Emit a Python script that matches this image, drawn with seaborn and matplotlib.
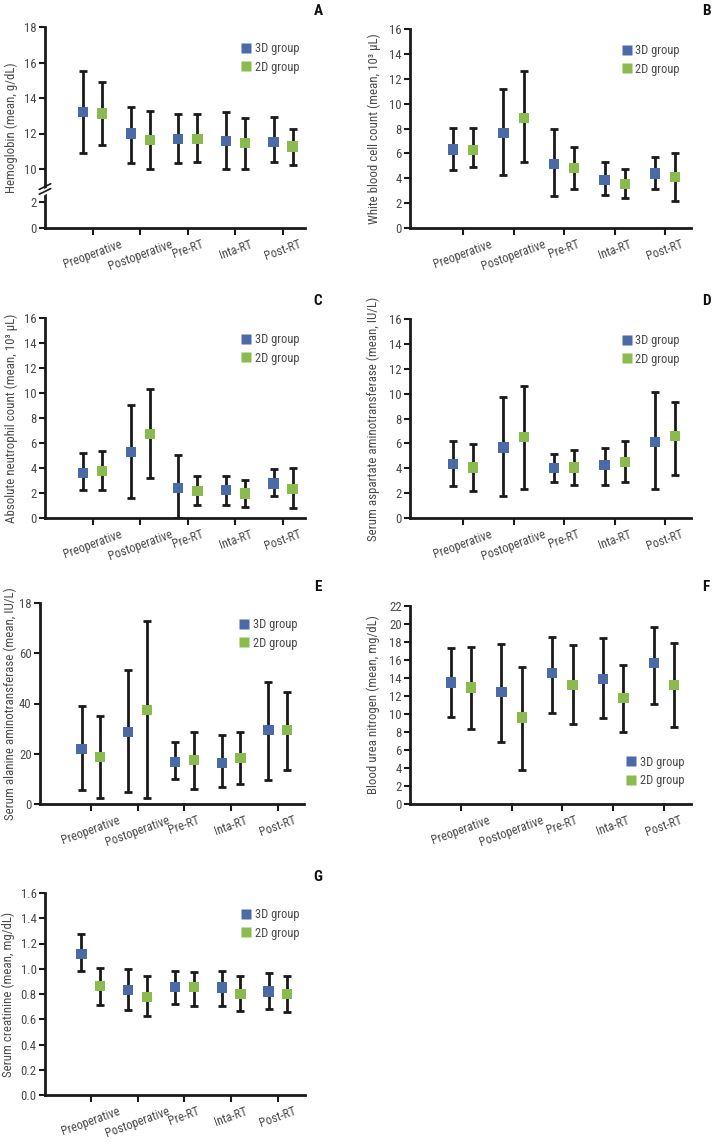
import numpy as np
import pandas as pd
import matplotlib
matplotlib.use("Agg")
import matplotlib.pyplot as plt
from matplotlib import font_manager
from matplotlib.lines import Line2D
import seaborn as sns

# ---------------- data ----------------
categories = ["Preoperative", "Postoperative", "Pre-RT", "Inta-RT", "Post-RT"]
groups = ["3D group", "2D group"]

# Hemoglobin (A)
hb_3d_mean = [13.2, 12.0, 11.69, 11.58, 11.54]
hb_3d_low = [10.88, 10.32, 10.32, 10.0, 10.38]
hb_3d_high = [15.52, 13.51, 13.12, 13.21, 12.91]
hb_2d_mean = [13.12, 11.63, 11.69, 11.45, 11.26]
hb_2d_low = [11.35, 10.0, 10.38, 10.0, 10.23]
hb_2d_high = [14.92, 13.27, 13.08, 12.85, 12.25]

# White blood cell count (B)
wbc_3d_mean = [6.3, 7.64, 5.15, 3.86, 4.37]
wbc_3d_low = [4.64, 4.29, 2.55, 2.63, 3.14]
wbc_3d_high = [8.04, 11.18, 7.99, 5.28, 5.74]
wbc_2d_mean = [6.25, 8.85, 4.8, 3.54, 4.1]
wbc_2d_low = [4.88, 5.28, 3.14, 2.39, 2.2]
wbc_2d_high = [8.04, 12.6, 6.49, 4.77, 6.0]

# Absolute neutrophil count (C)
anc_3d_mean = [3.59, 5.3, 2.41, 2.22, 2.76]
anc_3d_low = [2.22, 1.63, 0.0, 1.07, 1.77]
anc_3d_high = [5.16, 9.02, 5.03, 3.34, 3.93]
anc_2d_mean = [3.75, 6.72, 2.14, 1.95, 2.3]
anc_2d_low = [2.22, 3.21, 1.07, 0.88, 0.83]
anc_2d_high = [5.35, 10.3, 3.34, 3.02, 4.04]

# Serum AST (D)
ast_3d_mean = [4.34, 5.68, 4.02, 4.24, 6.11]
ast_3d_low = [2.55, 1.8, 2.9, 2.63, 2.33]
ast_3d_high = [6.17, 9.7, 5.15, 5.63, 10.1]
ast_2d_mean = [4.07, 6.51, 4.07, 4.53, 6.57]
ast_2d_low = [2.14, 2.33, 2.68, 2.9, 3.49]
ast_2d_high = [5.95, 10.59, 5.44, 6.22, 9.33]

# Serum ALT (E)
alt_3d_mean = [21.9, 28.6, 16.8, 16.3, 29.4]
alt_3d_low = [5.7, 4.8, 9.9, 6.6, 9.5]
alt_3d_high = [38.9, 53.4, 24.7, 27.3, 48.4]
alt_2d_mean = [18.7, 37.4, 17.6, 18.4, 29.4]
alt_2d_low = [2.4, 2.4, 6.1, 8.0, 13.4]
alt_2d_high = [35.1, 72.9, 28.6, 28.6, 44.6]

# Blood urea nitrogen (F)
bun_3d_mean = [13.49, 12.42, 14.53, 13.86, 15.64]
bun_3d_low = [9.69, 6.88, 10.09, 9.54, 11.09]
bun_3d_high = [17.38, 17.78, 18.6, 18.4, 19.7]
bun_2d_mean = [12.94, 9.61, 13.23, 11.76, 13.2]
bun_2d_low = [8.32, 3.81, 8.91, 7.95, 8.61]
bun_2d_high = [17.41, 15.19, 17.63, 15.45, 17.93]

# Serum creatinine (G)
cr_3d_mean = [1.119, 0.833, 0.854, 0.852, 0.82]
cr_3d_low = [0.984, 0.674, 0.719, 0.706, 0.682]
cr_3d_high = [1.275, 1.0, 0.984, 0.984, 0.968]
cr_2d_mean = [0.865, 0.775, 0.854, 0.801, 0.801]
cr_2d_low = [0.709, 0.629, 0.706, 0.669, 0.656]
cr_2d_high = [1.005, 0.939, 0.973, 0.942, 0.944]

# tick labels
hb_ticks = [0, 2, 10, 12, 14, 16, 18]
wbc_ticks = [0, 2, 4, 6, 8, 10, 12, 14, 16]
alt_ticks = [0, 20, 40, 60, 80]
alt_ticklabels = ["0", "20", "40", "60", "18"]
bun_ticks = [0, 2, 4, 6, 8, 10, 12, 14, 16, 18, 20, 22]
cr_ticks = [0.0, 0.2, 0.4, 0.6, 0.8, 1.0, 1.2, 1.4, 1.6]

# ---------------- style ----------------
sns.set_theme(style="ticks")
avail = {f.name for f in font_manager.fontManager.ttflist}
narrow = [n for n in ["Liberation Sans Narrow", "Roboto Condensed", "Open Sans Condensed",
                      "DejaVu Sans Condensed"] if n in avail]
FAM = narrow + ["DejaVu Sans"]
plt.rcParams["font.family"] = FAM
plt.rcParams["font.stretch"] = "condensed"
TXT = "#4a4a4a"
BLUE = "#4a6aa8"
GREEN = "#8bbb4f"
palette = {"3D group": BLUE, "2D group": GREEN}

W, H = 717, 1148
fig = plt.figure(figsize=(W / 100, H / 100), dpi=100)


def axes_px(left, right, top, bottom):
    return fig.add_axes([left / W, 1 - bottom / H, (right - left) / W, (bottom - top) / H])


def panel(ax, m3, l3, h3, m2, l2, h2, ylim, yticks, ylabel, xlim, labelx,
          legend_pos=(0.74, 0.95), yticklabels=None):
    rows = []
    for gi, (g, m, lo, hi) in enumerate([("3D group", m3, l3, h3), ("2D group", m2, l2, h2)]):
        for ci, c in enumerate(categories):
            rows.append({"group": g, "pos": ci + (-0.2 if gi == 0 else 0.2),
                         "mean": m[ci], "low": lo[ci], "high": hi[ci]})
    df = pd.DataFrame(rows)
    ax.errorbar(df["pos"], df["mean"], yerr=[df["mean"] - df["low"], df["high"] - df["mean"]],
                fmt="none", ecolor="#1a1a1a", elinewidth=2.0, capsize=2.6, capthick=2.0, zorder=2)
    sns.scatterplot(data=df, x="pos", y="mean", hue="group", palette=palette, marker="s",
                    s=55, edgecolor="none", linewidth=0, ax=ax, legend=False, zorder=3)
    ax.set_xlim(*xlim)
    ax.set_ylim(*ylim)
    ax.set_yticks(yticks)
    if yticklabels is not None:
        ax.set_yticklabels(yticklabels)
    ax.set_xticks(range(len(categories)))
    ax.set_xticklabels(categories, rotation=20, ha="center", fontsize=8.8, color=TXT)
    ax.tick_params(axis="y", labelsize=9.2, colors=TXT, length=4, width=1.5, pad=2)
    ax.tick_params(axis="x", length=5, width=1.5, pad=2, colors=TXT)
    ax.tick_params(axis="both", color="#1a1a1a")
    for side in ["top", "right"]:
        ax.spines[side].set_visible(False)
    for side in ["left", "bottom"]:
        ax.spines[side].set_linewidth(2.0)
        ax.spines[side].set_color("#1a1a1a")
    ax.set_xlabel("")
    ax.set_ylabel(ylabel, fontsize=9.3, color=TXT)
    ax.yaxis.set_label_coords(labelx, 0.5)
    handles = [Line2D([], [], marker="s", linestyle="none", markersize=6.5,
                      markerfacecolor=palette[g], markeredgecolor="none") for g in groups]
    ax.legend(handles, groups, loc="upper left", bbox_to_anchor=legend_pos, frameon=False,
              fontsize=9, handlelength=0.6, handletextpad=0.4, labelspacing=0.45,
              borderaxespad=0, labelcolor=TXT)
    ax.set_facecolor("white")


# Panel A with broken y-axis through a piecewise linear function scale
brk_data = [0, 2, 10, 18]
brk_disp = [0, 26, 59, 201]


def fwd(y):
    return np.interp(y, brk_data, brk_disp)


def inv(v):
    return np.interp(v, brk_disp, brk_data)


axA = axes_px(45, 305, 27, 228)
axA.set_yscale("function", functions=(fwd, inv))
panel(axA, hb_3d_mean, hb_3d_low, hb_3d_high, hb_2d_mean, hb_2d_low, hb_2d_high,
      (0, 18), hb_ticks, "Hemoglobin (mean, g/dL)", (-1.0, 4.46), -0.104)
axA.set_ylim(0, 18)
# break marks on the spine
yb = 1 - (189 - 27) / 201
axA.plot([-0.02, 0.02], [yb - 0.028, yb + 0.0], transform=axA.transAxes, color="white",
         lw=4, clip_on=False, zorder=5)
for dy in (-0.012, 0.012):
    axA.plot([-0.022, 0.022], [yb + dy - 0.014, yb + dy + 0.014], transform=axA.transAxes,
             color="#1a1a1a", lw=1.2, clip_on=False, zorder=6)

axB = axes_px(410, 691, 29, 228)
panel(axB, wbc_3d_mean, wbc_3d_low, wbc_3d_high, wbc_2d_mean, wbc_2d_low, wbc_2d_high,
      (0, 16), wbc_ticks, "White blood cell count (mean, 10³ μL)", (-1.05, 4.51), -0.103)

axC = axes_px(45, 305, 318, 518)
panel(axC, anc_3d_mean, anc_3d_low, anc_3d_high, anc_2d_mean, anc_2d_low, anc_2d_high,
      (0, 16), wbc_ticks, "Absolute neutrophil count (mean, 10³ μL)", (-1.0, 4.46), -0.104)

axD = axes_px(410, 691, 319, 518)
panel(axD, ast_3d_mean, ast_3d_low, ast_3d_high, ast_2d_mean, ast_2d_low, ast_2d_high,
      (0, 16), wbc_ticks, "Serum aspartate aminotransferase (mean, IU/L)", (-1.05, 4.51), -0.107)

axE = axes_px(40, 304, 603, 804)
panel(axE, alt_3d_mean, alt_3d_low, alt_3d_high, alt_2d_mean, alt_2d_low, alt_2d_high,
      (0, 80), alt_ticks, "Serum alanine aminotransferase (mean, IU/L)", (-1.09, 4.56), -0.087,
      yticklabels=alt_ticklabels)

axF = axes_px(410, 691, 606, 804)
panel(axF, bun_3d_mean, bun_3d_low, bun_3d_high, bun_2d_mean, bun_2d_low, bun_2d_high,
      (0, 22), bun_ticks, "Blood urea nitrogen (mean, mg/dL)", (-1.0, 4.53), -0.107,
      legend_pos=(0.755, 0.27))

axG = axes_px(45, 305, 893, 1095)
panel(axG, cr_3d_mean, cr_3d_low, cr_3d_high, cr_2d_mean, cr_2d_low, cr_2d_high,
      (0, 1.6), cr_ticks, "Serum creatinine (mean, mg/dL)", (-0.98, 4.58), -0.115)
axG.set_yticklabels([f"{t:.1f}" for t in cr_ticks])

letters = [("A", 318, 11), ("B", 706, 11), ("C", 318, 301), ("D", 706, 301),
           ("E", 318, 587), ("F", 706, 587), ("G", 318, 877)]
for t, x, y in letters:
    fig.text(x / W, 1 - y / H, t, ha="center", va="center", fontsize=11,
             fontweight="bold", color="#111111")

fig.savefig("out.png", dpi=100, facecolor="white")
